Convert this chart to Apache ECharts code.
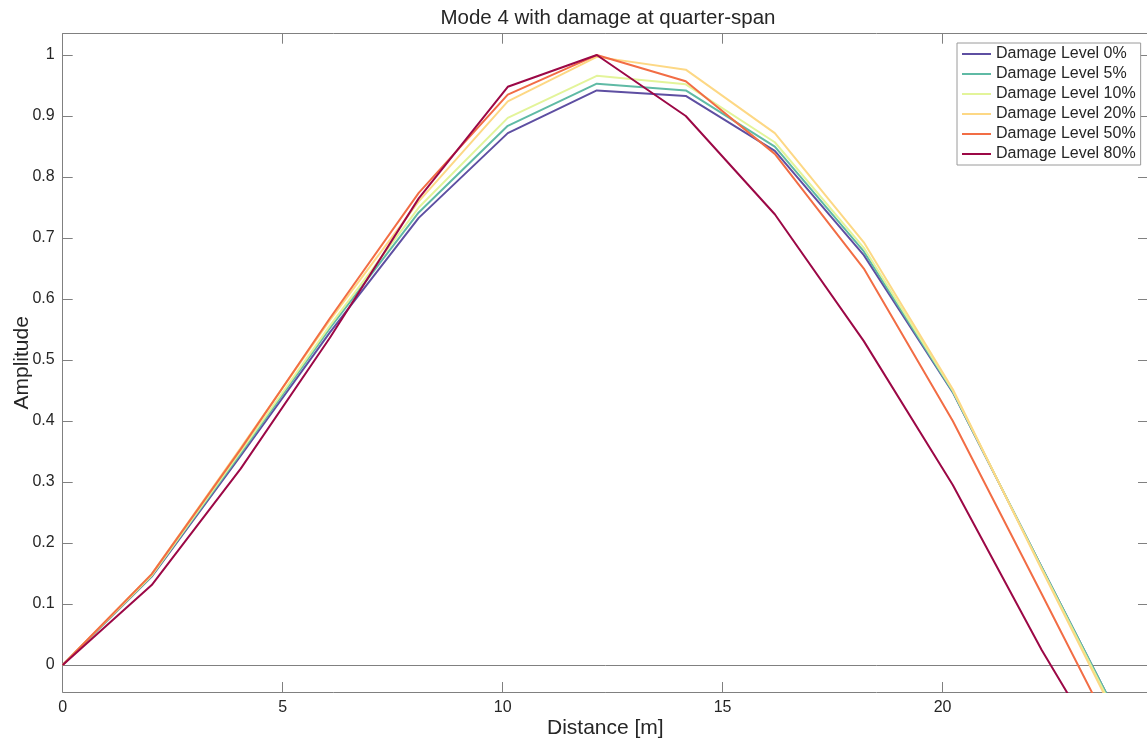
<!DOCTYPE html>
<html>
<head>
<meta charset="utf-8">
<script src="https://cdn.jsdelivr.net/npm/echarts@6/dist/echarts.min.js"></script>
<style>
html,body{margin:0;padding:0;background:#fff;}
#chart{width:1147px;height:742px;}
</style>
</head>
<body>
<div id="chart"></div>
<script>
// Data
const distance = [0, 2.023, 4.047, 6.07, 8.093, 10.117, 12.14, 14.163, 16.187, 18.21, 20.233, 22.257, 24.28];
const seriesNames = ['Damage Level 0%', 'Damage Level 5%', 'Damage Level 10%', 'Damage Level 20%', 'Damage Level 50%', 'Damage Level 80%'];
const damage0  = [0, 0.145, 0.343, 0.545, 0.733, 0.872, 0.942, 0.933, 0.843, 0.672, 0.447, 0.160, -0.125];
const damage5  = [0, 0.146, 0.347, 0.552, 0.742, 0.884, 0.953, 0.942, 0.850, 0.678, 0.448, 0.160, -0.125];
const damage10 = [0, 0.147, 0.350, 0.556, 0.750, 0.897, 0.966, 0.952, 0.857, 0.684, 0.450, 0.158, -0.130];
const damage20 = [0, 0.149, 0.356, 0.565, 0.760, 0.924, 0.997, 0.976, 0.872, 0.693, 0.452, 0.156, -0.135];
const damage50 = [0, 0.149, 0.354, 0.568, 0.774, 0.935, 1.000, 0.957, 0.838, 0.650, 0.400, 0.116, -0.170];
const damage80 = [0, 0.131, 0.322, 0.536, 0.765, 0.948, 1.000, 0.900, 0.739, 0.531, 0.295, 0.024, -0.220];
const colors = ['#5e4fa2', '#5fbaa5', '#e3f49a', '#fdd885', '#f26d45', '#9c0846'];
const xTicks = [0, 5, 10, 15, 20];
const yTicks = [0, 0.1, 0.2, 0.3, 0.4, 0.5, 0.6, 0.7, 0.8, 0.9, 1];
const yTickLabels = ['0', '0.1', '0.2', '0.3', '0.4', '0.5', '0.6', '0.7', '0.8', '0.9', '1'];

const allData = [damage0, damage5, damage10, damage20, damage50, damage80];
const FONT = 'Liberation Sans, Arial, Helvetica, sans-serif';
const AXIS_COLOR = '#808080';
const TEXT_COLOR = '#262626';
const X_MIN = 0, X_MAX = 24.67, Y_MIN = -0.0443, Y_MAX = 1.035;

const chart = echarts.init(document.getElementById('chart'), null, {renderer: 'canvas'});

const series = allData.map((arr, i) => ({
  name: seriesNames[i],
  type: 'line',
  data: arr.map((v, j) => [distance[j], v]),
  symbol: 'none',
  lineStyle: {width: 2, color: colors[i]},
  itemStyle: {color: colors[i]},
  z: 3 + i,
  animation: false,
  markLine: i === 0 ? {
    silent: true,
    symbol: 'none',
    label: {show: false},
    lineStyle: {color: AXIS_COLOR, width: 1, type: 'solid'},
    data: [{yAxis: 0}],
    animation: false,
    z: 1
  } : undefined
}));

const option = {
  backgroundColor: '#ffffff',
  animation: false,
  title: {
    text: 'Mode 4 with damage at quarter-span',
    left: 608,
    top: 8,
    textAlign: 'center',
    padding: 0,
    textStyle: {fontFamily: FONT, fontSize: 20.5, fontWeight: 'normal', color: TEXT_COLOR}
  },
  grid: {left: 62.7, right: -1, top: 33.7, bottom: 50, containLabel: false, outerBoundsMode: 'none'},
  legend: {
    data: seriesNames,
    orient: 'vertical',
    left: 957,
    top: 43,
    padding: [1, 5, 1, 5],
    itemGap: 0,
    itemWidth: 29,
    itemHeight: 2,
    icon: 'rect',
    backgroundColor: '#ffffff',
    borderColor: '#9a9a9a',
    borderWidth: 1,
    borderRadius: 0,
    textStyle: {fontFamily: FONT, fontSize: 16, color: TEXT_COLOR, lineHeight: 20, height: 20}
  },
  xAxis: [{
    type: 'value',
    min: X_MIN, max: X_MAX,
    name: 'Distance [m]',
    nameLocation: 'middle',
    nameGap: 26,
    nameMoveOverlap: false,
    nameTextStyle: {fontFamily: FONT, fontSize: 21, color: TEXT_COLOR},
    axisLine: {show: true, onZero: false, lineStyle: {color: AXIS_COLOR, width: 1}},
    axisTick: {show: true, inside: true, length: 10, customValues: xTicks, lineStyle: {color: AXIS_COLOR}},
    axisLabel: {show: true, customValues: xTicks, margin: 8, fontFamily: FONT, fontSize: 16, color: TEXT_COLOR},
    splitLine: {show: false}
  }, {
    type: 'value',
    position: 'top',
    min: X_MIN, max: X_MAX,
    axisLine: {show: true, onZero: false, lineStyle: {color: AXIS_COLOR, width: 1}},
    axisTick: {show: true, inside: true, length: 10, customValues: xTicks, lineStyle: {color: AXIS_COLOR}},
    axisLabel: {show: false},
    splitLine: {show: false}
  }],
  yAxis: [{
    type: 'value',
    min: Y_MIN, max: Y_MAX,
    name: 'Amplitude',
    nameLocation: 'middle',
    nameGap: 30,
    nameRotate: 90,
    nameMoveOverlap: false,
    nameTextStyle: {fontFamily: FONT, fontSize: 21, color: TEXT_COLOR},
    axisLine: {show: true, onZero: false, lineStyle: {color: AXIS_COLOR, width: 1}},
    axisTick: {show: true, inside: true, length: 10, customValues: yTicks, lineStyle: {color: AXIS_COLOR}},
    axisLabel: {
      show: true, customValues: yTicks, margin: 8, fontFamily: FONT, fontSize: 16, color: TEXT_COLOR,
      formatter: function (v) {
        const idx = yTicks.findIndex(t => Math.abs(t - v) < 1e-9);
        return idx >= 0 ? yTickLabels[idx] : '';
      }
    },
    splitLine: {show: false}
  }, {
    type: 'value',
    position: 'right',
    min: Y_MIN, max: Y_MAX,
    axisLine: {show: true, onZero: false, lineStyle: {color: AXIS_COLOR, width: 1}},
    axisTick: {show: true, inside: true, length: 10, customValues: yTicks, lineStyle: {color: AXIS_COLOR}},
    axisLabel: {show: false},
    splitLine: {show: false}
  }],
  series: series
};

chart.setOption(option);
</script>
</body>
</html>
